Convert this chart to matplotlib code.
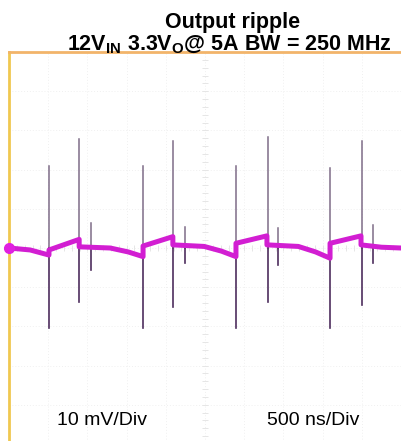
#!/usr/bin/env python
"""Scope capture: output ripple, 12 V in / 3.3 V out @ 5 A."""
import numpy as np
import matplotlib
matplotlib.use("Agg")
import matplotlib.pyplot as plt

# trace envelope centre, in screen divisions (x: 0..10, y: -5..5)
RIPPLE_X = [0.00, 0.54, 1.02, 1.02, 1.79, 1.79, 2.58, 3.04, 3.42, 3.42,
            4.18, 4.18, 4.98, 5.42, 5.79, 5.79, 6.58, 6.58, 7.38, 7.82,
            8.19, 8.19, 8.98, 8.98, 9.50, 10.00]
RIPPLE_Y = [0.00, -0.05, -0.18, -0.05, 0.22, 0.03, 0.00, -0.10, -0.22, 0.05,
            0.29, 0.08, 0.04, -0.08, -0.22, 0.12, 0.31, 0.08, 0.04, -0.10,
            -0.26, 0.12, 0.31, 0.08, 0.02, 0.00]

# switching spikes: position, positive peak, negative peak (divisions)
SPIKE_X = [1.02, 1.79, 2.09, 3.42, 4.18, 4.49, 5.79, 6.61, 6.86, 8.19, 9.01, 9.29]
SPIKE_TOP = [2.08, 2.77, 0.64, 2.08, 2.72, 0.54, 2.08, 2.82, 0.51, 2.05, 2.72, 0.59]
SPIKE_BOT = [-2.03, -1.38, -0.56, -2.05, -1.51, -0.38, -2.03, -1.38, -0.44, -2.03, -1.46, -0.38]

TITLE_1 = "Output ripple"
TITLE_2 = r"12V$_\mathrm{IN}$ 3.3V$_\mathrm{O}$@ 5A BW = 250 MHz"
VSCALE = "10 mV/Div"
HSCALE = "500 ns/Div"

plt.rcParams["font.family"] = ["Liberation Sans", "DejaVu Sans"]
plt.rcParams["mathtext.fontset"] = "custom"
plt.rcParams["mathtext.rm"] = "Liberation Sans:bold"
plt.rcParams["mathtext.it"] = "Liberation Sans:bold"
plt.rcParams["mathtext.bf"] = "Liberation Sans:bold"

W, H = 401, 441
fig = plt.figure(figsize=(W / 100, H / 100), dpi=100)
ax = fig.add_axes([9 / W, 1 - (52 + 392) / H, 392 / W, 392 / H])
ax.set_xlim(0, 10)
ax.set_ylim(-5, 5)

# faint graticule
for g in range(1, 10):
    ax.axvline(g, color="#f0f0f0", lw=0.7, ls=(0, (1, 2)), zorder=0)
    ax.axhline(g - 5, color="#f0f0f0", lw=0.7, ls=(0, (1, 2)), zorder=0)
minor = np.arange(0, 10.01, 0.2)
ax.plot(np.full_like(minor, 5), minor - 5, ls="none", marker="_", ms=4,
        color="#e6e6e6", mew=0.7, zorder=0)
ax.plot(minor, np.zeros_like(minor), ls="none", marker="|", ms=4,
        color="#e6e6e6", mew=0.7, zorder=0)

# spikes under the trace
for x, t, b in zip(SPIKE_X, SPIKE_TOP, SPIKE_BOT):
    ax.plot([x, x], [0, t], color="#7e6c88", lw=1.1, zorder=2)
    ax.plot([x, x], [0, b], color="#4e2e5e", lw=1.2, zorder=2)

ax.plot(RIPPLE_X, RIPPLE_Y, color="#d21ed2", lw=3.6, solid_joinstyle="round",
        zorder=3)
ax.plot([0], [0], "o", color="#e020e0", ms=7, zorder=4, clip_on=False)

for s in ["right", "bottom"]:
    ax.spines[s].set_visible(False)
ax.spines["left"].set_color("#f0c850")
ax.spines["left"].set_linewidth(2)
ax.spines["top"].set_color("#f2b46a")
ax.spines["top"].set_linewidth(2)
ax.set_xticks([])
ax.set_yticks([])

ax.text(2.37, -4.4, VSCALE, fontsize=14, ha="center", va="center")
ax.text(7.76, -4.4, HSCALE, fontsize=14, ha="center", va="center")

fig.text(233 / W, 1 - 28 / H, TITLE_1, fontsize=15.5, fontweight="bold",
         ha="center", va="baseline")
fig.text(229 / W, 1 - 50 / H, TITLE_2, fontsize=15.5, fontweight="bold",
         ha="center", va="baseline")

fig.savefig("out.png", dpi=100)
